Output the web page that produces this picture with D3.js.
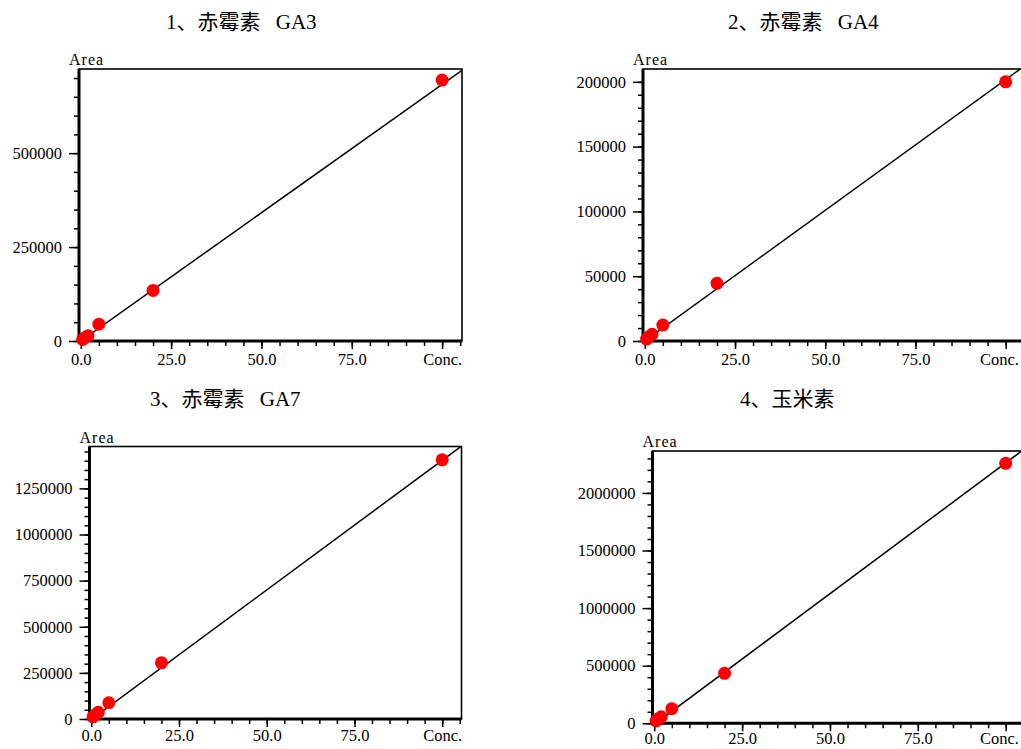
<!DOCTYPE html>
<html>
<head>
<meta charset="utf-8">
<script src="https://cdnjs.cloudflare.com/ajax/libs/d3/7.8.5/d3.min.js"></script>
<style>
  body { margin: 0; background: #fff; }
  svg { display: block; }
  text { font-family: "Liberation Serif", "Times New Roman", "Noto Sans CJK SC", serif; fill: #000; }
</style>
</head>
<body>
<svg id="chart" width="1021" height="749"></svg>
<script>
// donnees
var titres = ["1、赤霉素 GA3", "2、赤霉素 GA4", "3、赤霉素 GA7", "4、玉米素"];
var concentrations = [0.5, 1, 2, 5, 20, 100];
var airesGA3 = [4000, 8000, 14000, 44700, 134700, 694600];
var airesGA4 = [1500, 3000, 5200, 12300, 44500, 200000];
var airesGA7 = [12000, 21000, 36000, 88000, 304600, 1405000];
var airesZeatine = [20000, 37000, 57000, 126700, 434000, 2257000];
var pentes = [6830, 2017, 14050, 22700];
var ordonnees = [0, 0, -3000, -10000];
var yHaut = [724000, 209900, 1477000, 2364000];
var yPasMajeur = [250000, 50000, 250000, 500000];
var yPasMineur = [50000, 10000, 50000, 100000];
var yMaxTick = [700000, 200000, 1450000, 2300000];
var xDomaine = [-0.5, 105.5];
var xTicks = [0, 25, 50, 75, 100];
var xTicksLabels = ["0.0", "25.0", "50.0", "75.0", "Conc."];
var xTicksMineurs = d3.range(0, 106, 5);

var series = [airesGA3, airesGA4, airesGA7, airesZeatine];

// mise en page des 4 panneaux
var cadres = [
  {left: 79,    top: 69,    width: 383,   height: 272,   titreX: 166, titreY: 29,  pad: 4},
  {left: 643,   top: 69,    width: 382.5, height: 272,   titreX: 728, titreY: 29,  pad: 4},
  {left: 89.5,  top: 446.5, width: 372,   height: 272.5, titreX: 150, titreY: 406, pad: 2},
  {left: 652.5, top: 451,   width: 372.5, height: 272.3, titreX: 740, titreY: 406, pad: 1}
];

var svg = d3.select("#chart");
svg.append("rect").attr("width", 1021).attr("height", 749).attr("fill", "#fff");

for (var i = 0; i < 4; i++) {
  var c = cadres[i];
  var g = svg.append("g").attr("transform", "translate(" + c.left + "," + c.top + ")");

  var x = d3.scaleLinear().domain(xDomaine).range([0, c.width]);
  var y = d3.scaleLinear().domain([0, yHaut[i]]).range([c.height, 0]);

  // titre
  svg.append("text")
    .attr("x", c.titreX).attr("y", c.titreY)
    .style("font-size", "21px")
    .style("word-spacing", "10px")
    .text(titres[i]);

  // cadre
  g.append("rect")
    .attr("width", c.width).attr("height", c.height)
    .attr("fill", "none").attr("stroke", "#000").attr("stroke-width", 1.6);

  // axe Y
  var majeurs = d3.range(0, yMaxTick[i] + 1, yPasMajeur[i]);
  var mineurs = d3.range(0, yMaxTick[i] + 1, yPasMineur[i]);
  var axeYmin = g.append("g").call(d3.axisLeft(y).tickValues(mineurs).tickSize(5).tickFormat(""));
  var axeY = g.append("g").call(d3.axisLeft(y).tickValues(majeurs).tickSize(10).tickPadding(7).tickFormat(d3.format("d")));

  // axe X
  var axeXmin = g.append("g").attr("transform", "translate(0," + c.height + ")")
    .call(d3.axisBottom(x).tickValues(xTicksMineurs).tickSize(5).tickFormat(""));
  var axeX = g.append("g").attr("transform", "translate(0," + c.height + ")")
    .call(d3.axisBottom(x).tickValues(xTicks).tickSize(8).tickPadding(c.pad)
      .tickFormat(function(d, k){ return xTicksLabels[k]; }));

  [axeYmin, axeY, axeXmin, axeX].forEach(function(a){
    a.select(".domain").remove();
    a.selectAll("line").attr("stroke", "#000").attr("stroke-width", 1.5);
    a.selectAll("text").style("font-size", "16.5px").attr("fill", "#000");
  });

  // ne pas depasser le bord droit de l'image
  axeX.selectAll("text").each(function(){
    var droite = this.getBoundingClientRect().right;
    if (droite > 1019) d3.select(this).attr("dx", (1019 - droite) + "px");
  });

  // axes epais
  g.append("line").attr("x1", 0).attr("x2", 0).attr("y1", 0).attr("y2", c.height)
    .attr("stroke", "#000").attr("stroke-width", 3);
  g.append("line").attr("x1", 0).attr("x2", c.width).attr("y1", c.height).attr("y2", c.height)
    .attr("stroke", "#000").attr("stroke-width", 3);

  g.append("text")
    .attr("x", -10).attr("y", -4)
    .style("font-size", "16px").style("letter-spacing", "1px")
    .text("Area");

  // droite d'etalonnage
  g.append("clipPath").attr("id", "clip" + i)
    .append("rect").attr("width", c.width).attr("height", c.height);
  var ligne = d3.line().x(function(d){ return x(d); })
    .y(function(d){ return y(pentes[i] * d + ordonnees[i]); });
  g.append("path")
    .datum([0, xDomaine[1]])
    .attr("clip-path", "url(#clip" + i + ")")
    .attr("d", ligne)
    .attr("fill", "none").attr("stroke", "#000").attr("stroke-width", 1.5);

  // points
  g.selectAll(".pt")
    .data(series[i])
    .enter().append("circle")
    .attr("class", "pt")
    .attr("cx", function(d, k){ return x(concentrations[k]); })
    .attr("cy", function(d){ return y(d); })
    .attr("r", 6.5)
    .attr("fill", "#ff0000");
}
</script>
</body>
</html>
